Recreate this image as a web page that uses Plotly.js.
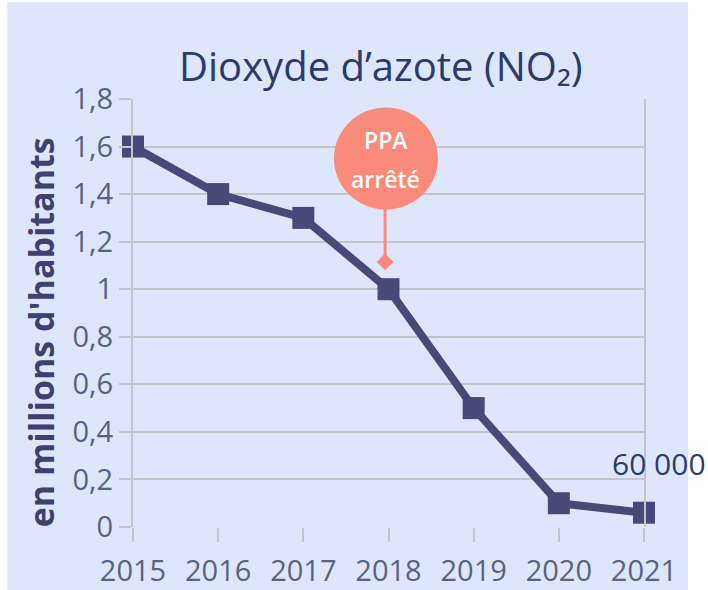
<!DOCTYPE html>
<html>
<head>
<meta charset="utf-8">
<script src="https://cdn.plot.ly/plotly-3.0.1.min.js"></script>
<style>html,body{margin:0;padding:0;background:#fff;}#chart{width:708px;height:590px;}</style>
</head>
<body>
<div id="chart"></div>
<script>
// Data
const years = [2015, 2016, 2017, 2018, 2019, 2020, 2021];
const values = [1.6, 1.4, 1.3, 1.0, 0.5, 0.1, 0.06];
const yTickVals = [0, 0.2, 0.4, 0.6, 0.8, 1, 1.2, 1.4, 1.6, 1.8];
const yTickText = ["0", "0,2", "0,4", "0,6", "0,8", "1", "1,2", "1,4", "1,6", "1,8"];
const xTickText = ["2015", "2016", "2017", "2018", "2019", "2020", "2021"];
const titleText = "Dioxyde d\u2019azote (NO\u2082)";
const yTitleText = "en millions d'habitants";
const lastLabel = "60 000";
const eventLabelTop = "PPA";
const eventLabelBottom = "arrêté";
const eventYear = [2017.96];
const eventValue = [1.115];

const navy = "#2d3a6c";
const lineCol = "#474a79";
const salmon = "#fa8a79";
const gridCol = "#c3c5cc";
const font = "Open Sans, Liberation Sans, sans-serif";

const traces = [
  {
    x: years, y: values, type: "scatter", mode: "lines+markers",
    line: {color: lineCol, width: 8},
    marker: {symbol: "square", size: 22, color: lineCol},
    cliponaxis: false, hoverinfo: "skip"
  },
  {
    x: eventYear, y: eventValue, type: "scatter", mode: "markers",
    marker: {symbol: "diamond", size: 13, color: salmon},
    cliponaxis: false, hoverinfo: "skip"
  }
];

const layout = {
  width: 708, height: 590,
  margin: {l: 133, r: 64, t: 99, b: 63},
  paper_bgcolor: "rgba(0,0,0,0)",
  plot_bgcolor: "rgba(0,0,0,0)",
  showlegend: false,
  font: {family: font},
  xaxis: {
    range: [2015, 2021], tickvals: years, ticktext: xTickText,
    showgrid: false, zeroline: false,
    showline: false,
    ticks: "outside", ticklen: 14, tickwidth: 2, tickcolor: gridCol,
    tickfont: {size: 29, color: "#5a6283", family: font},
    ticklabelstandoff: 4
  },
  yaxis: {
    range: [0, 1.8], tickvals: yTickVals, ticktext: yTickText,
    showgrid: true, gridcolor: gridCol, gridwidth: 2,
    zeroline: false,
    showline: true, mirror: true, linecolor: gridCol, linewidth: 2,
    ticks: "outside", ticklen: 12, tickwidth: 2, tickcolor: gridCol,
    tickfont: {size: 29, color: "#5a6283", family: font},
    ticklabelstandoff: 0
  },
  shapes: [
    {type: "rect", xref: "paper", yref: "paper", layer: "below",
     x0: -0.2458, x1: 1.0862, y0: -0.2, y1: 1.226,
     fillcolor: "#dee6fb", line: {width: 0}},
    {type: "line", xref: "x", yref: "y",
     x0: eventYear[0], x1: eventYear[0], y0: eventValue[0], y1: 1.35,
     line: {color: salmon, width: 3}},
    {type: "circle", xref: "x", yref: "y", xsizemode: "pixel", ysizemode: "pixel",
     xanchor: 2017.97, yanchor: 1.55, x0: -52, x1: 52, y0: -51, y1: 51,
     fillcolor: salmon, line: {width: 0}}
  ],
  annotations: [
    {xref: "paper", yref: "paper", x: 0.485, y: 1.0, yshift: 4, yanchor: "bottom", xanchor: "center",
     text: titleText, showarrow: false,
     font: {size: 40, color: navy, family: font}},
    {xref: "paper", yref: "paper", x: -0.18, y: 0.455, xanchor: "center", yanchor: "middle",
     text: yTitleText, textangle: -90, showarrow: false,
     font: {size: 34, color: "#3d4071", family: font, weight: "bold"}},
    {xref: "paper", yref: "y", x: 1.029, y: 0.265, xanchor: "center", text: lastLabel, showarrow: false,
     font: {size: 30, color: navy, family: font}},
    {xref: "x", yref: "y", x: 2017.97, y: 1.55, yshift: 18, text: eventLabelTop, showarrow: false,
     font: {size: 23, color: "#ffffff", family: font, weight: 600}},
    {xref: "x", yref: "y", x: 2017.97, y: 1.55, yshift: -21, text: eventLabelBottom, showarrow: false,
     font: {size: 23, color: "#ffffff", family: font, weight: 600}}
  ]
};

Plotly.newPlot("chart", traces, layout, {staticPlot: true, displayModeBar: false});
</script>
</body>
</html>
